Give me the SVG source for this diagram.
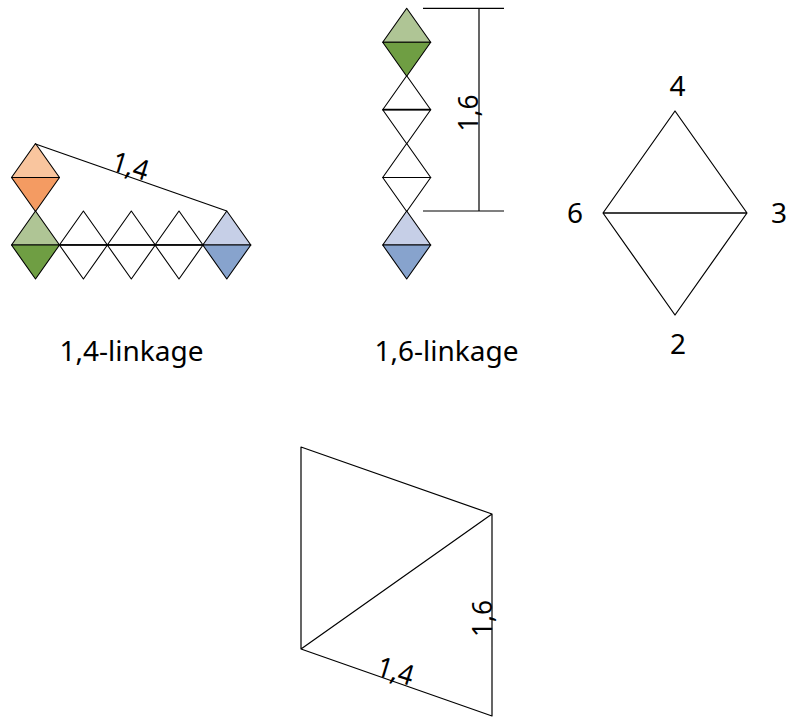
<svg xmlns="http://www.w3.org/2000/svg" width="787" height="717" viewBox="0 0 787 717">
<style>
.l{fill:none;stroke:#000;stroke-width:1.2;stroke-linejoin:round}
.h{fill:none;stroke:#000;stroke-width:1.7}
.t{font-family:"Noto Sans","Open Sans",sans-serif;font-size:28px;fill:#000}
.e{fill:#fff}
.lg{fill:#afc595}.dg{fill:#6f9e43}
.lb{fill:#c6cfe7}.db{fill:#87a3cd}
.lo{fill:#f9c59e}.do{fill:#f49b62}
.s{stroke:#000;stroke-width:1.1;stroke-linejoin:round}
</style>
<defs>
<g id="tri"><path d="M-24 0L0-34L24 0Z" class="s" fill="inherit"/></g>
<g id="trd"><path d="M-24 0L0 34L24 0Z" class="s" fill="inherit"/></g>
</defs>
<g id="orange-top">
<use href="#tri" x="35.5" y="177.5" class="lo"/><use href="#trd" x="35.5" y="177.5" class="do"/>
</g>
<g id="row-green">
<use href="#tri" x="35.5" y="245" class="lg"/><use href="#trd" x="35.5" y="245" class="dg"/>
</g>
<g id="row-white-1">
<use href="#tri" x="83.4" y="245" class="e"/><use href="#trd" x="83.4" y="245" class="e"/>
</g>
<g id="row-white-2">
<use href="#tri" x="131.3" y="245" class="e"/><use href="#trd" x="131.3" y="245" class="e"/>
</g>
<g id="row-white-3">
<use href="#tri" x="179" y="245" class="e"/><use href="#trd" x="179" y="245" class="e"/>
<path class="h" d="M59.5 245H203"/>
</g>
<g id="row-blue">
<use href="#tri" x="226.8" y="245" class="lb"/><use href="#trd" x="226.8" y="245" class="db"/>
</g>
<g id="col-green">
<use href="#tri" x="406.7" y="42.3" class="lg"/><use href="#trd" x="406.7" y="42.3" class="dg"/>
</g>
<g id="col-white-1">
<use href="#tri" x="406.7" y="109.7" class="e"/><use href="#trd" x="406.7" y="109.7" class="e"/>
<path class="h" d="M382.7 109.7H430.7"/>
</g>
<g id="col-white-2">
<use href="#tri" x="406.7" y="177.5" class="e"/><use href="#trd" x="406.7" y="177.5" class="e"/>
</g>
<g id="col-blue">
<use href="#tri" x="406.7" y="245" class="lb"/><use href="#trd" x="406.7" y="245" class="db"/>
</g>
<g id="big-diamond">
<path class="l" d="M603 213L675 111L747 213L675 315Z"/>
<path class="h" d="M603 213H747"/>
</g>
<g id="parallelogram">
<path class="l" d="M301 447L492 514V716L301 649ZM301 649L492 514"/>
</g>
<g id="connectors">
<path class="l" d="M35.5 144L226.8 211"/>
<path class="l" d="M423 8.3H504M423 211H504M479 8.3V211"/>
</g>
<g id="labels">
<text class="t" x="59.5" y="361">1,4-linkage</text>
<text class="t" x="374.5" y="361">1,6-linkage</text>
<text class="t" x="669.5" y="96">4</text>
<text class="t" x="670" y="353.5">2</text>
<text class="t" x="567" y="222.7">6</text>
<text class="t" x="771" y="222.7">3</text>
<text class="t" textLength="37" lengthAdjust="spacingAndGlyphs" transform="translate(110 170) rotate(17)">1,4</text>
<text class="t" textLength="37" lengthAdjust="spacingAndGlyphs" transform="translate(375 675) rotate(17)">1,4</text>
<text class="t" textLength="37" lengthAdjust="spacingAndGlyphs" transform="translate(478 131.5) rotate(-90)">1,6</text>
<text class="t" textLength="37" lengthAdjust="spacingAndGlyphs" transform="translate(492 637) rotate(-90)">1,6</text>
</g>
</svg>
